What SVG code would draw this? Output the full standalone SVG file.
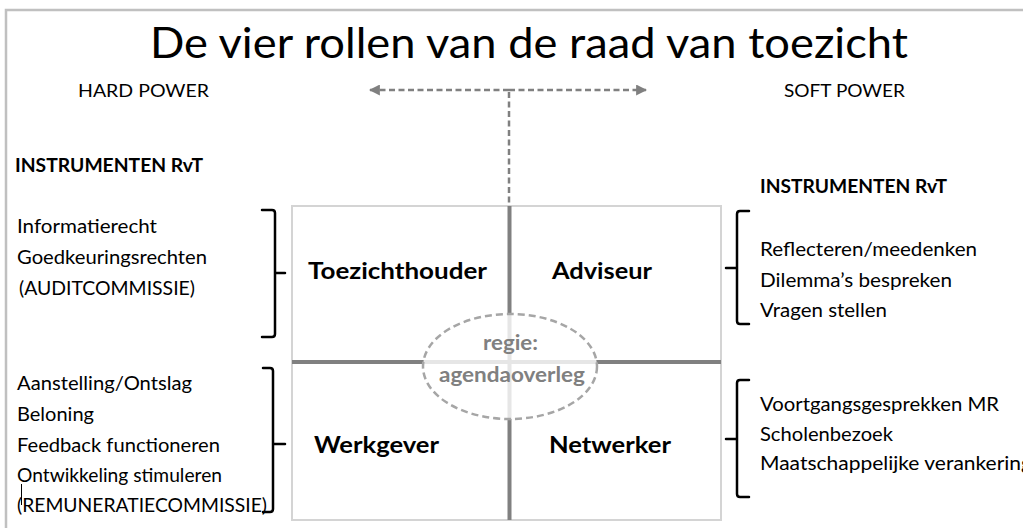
<svg xmlns="http://www.w3.org/2000/svg" width="1023" height="528" viewBox="0 0 1023 528">
<defs>
<style>
.t{font-family:Lato,"Open Sans","Liberation Sans",sans-serif;fill:#000}
.body{font-size:18.5px}
.bold{font-weight:bold}
.role{font-size:23px;font-weight:bold}
.center{font-size:20.5px;font-weight:bold;fill:#808080}
.br{fill:none;stroke:#000;stroke-width:2.5;stroke-linejoin:round;stroke-linecap:round}
.dash{fill:none;stroke:#808080;stroke-width:2.5;stroke-dasharray:6 3.5}
</style>
<marker id="ah" viewBox="0 0 10 10" refX="9" refY="5" markerWidth="11" markerHeight="11" markerUnits="userSpaceOnUse" orient="auto-start-reverse">
<path d="M0,0 L10,5 L0,10 Z" fill="#808080"/>
</marker>
</defs>
<rect width="1023" height="528" fill="#fff"/>
<path d="M6,528 V10 H1023" fill="none" stroke="#c0c0c0" stroke-width="2.5"/>

<text class="t" x="150" y="58" font-size="43" textLength="758" lengthAdjust="spacingAndGlyphs">De vier rollen van de raad van toezicht</text>
<text class="t" x="78" y="97" font-size="16.5" textLength="131" lengthAdjust="spacingAndGlyphs">HARD POWER</text>
<text class="t" x="784" y="97" font-size="16.5" textLength="121" lengthAdjust="spacingAndGlyphs">SOFT POWER</text>

<g id="connectors">
<path class="dash" d="M509,90 H370" marker-end="url(#ah)"/>
<path class="dash" d="M509,90 H646" marker-end="url(#ah)"/>
<path class="dash" d="M509,92 V205"/>
</g>

<g id="matrix">
<rect x="292" y="206" width="429" height="314" fill="#fff" stroke="#d4d4d4" stroke-width="2"/>
<line x1="509.5" y1="206" x2="509.5" y2="520" stroke="#808080" stroke-width="4"/>
<line x1="292" y1="362" x2="721" y2="362" stroke="#808080" stroke-width="4"/>
</g>

<g id="toezichthouder"><text class="t role" x="308" y="279" textLength="179" lengthAdjust="spacingAndGlyphs">Toezichthouder</text></g>
<g id="adviseur"><text class="t role" x="552" y="279" textLength="100" lengthAdjust="spacingAndGlyphs">Adviseur</text></g>
<g id="werkgever"><text class="t role" x="314" y="453" textLength="125" lengthAdjust="spacingAndGlyphs">Werkgever</text></g>
<g id="netwerker"><text class="t role" x="549" y="453" textLength="122" lengthAdjust="spacingAndGlyphs">Netwerker</text></g>

<g id="regie">
<ellipse cx="510" cy="366.5" rx="87" ry="52.5" fill="#fff" fill-opacity="0.8" stroke="#a6a6a6" stroke-width="2.5" stroke-dasharray="7 4"/>
<text class="t center" x="483" y="350" textLength="55" lengthAdjust="spacingAndGlyphs">regie:</text>
<text class="t center" x="439" y="382" textLength="146" lengthAdjust="spacingAndGlyphs">agendaoverleg</text>
</g>

<g id="hard-instruments">
<text class="t body bold" x="15" y="172" textLength="188" lengthAdjust="spacingAndGlyphs">INSTRUMENTEN RvT</text>
<text class="t body" x="17" y="233" textLength="140" lengthAdjust="spacingAndGlyphs">Informatierecht</text>
<text class="t body" x="17" y="264" textLength="190" lengthAdjust="spacingAndGlyphs">Goedkeuringsrechten</text>
<text class="t body" x="19" y="295" textLength="176" lengthAdjust="spacingAndGlyphs">(AUDITCOMMISSIE)</text>
<path class="br" d="M262,210 H272 Q275,210 275,213 V334 Q275,337 272,337 H262 M275,273 H285"/>
<text class="t body" x="17" y="390" textLength="175" lengthAdjust="spacingAndGlyphs">Aanstelling/Ontslag</text>
<text class="t body" x="17" y="421" textLength="77" lengthAdjust="spacingAndGlyphs">Beloning</text>
<text class="t body" x="17" y="452" textLength="203" lengthAdjust="spacingAndGlyphs">Feedback functioneren</text>
<text class="t body" x="17" y="482" textLength="205" lengthAdjust="spacingAndGlyphs">Ontwikkeling stimuleren</text>
<text class="t body" x="17" y="512" textLength="250" lengthAdjust="spacingAndGlyphs">(REMUNERATIECOMMISSIE)</text>
<line x1="21.5" y1="484" x2="21.5" y2="505" stroke="#000" stroke-width="1"/>
<path class="br" d="M263,368 H270 Q273,368 273,371 V509 Q273,512 270,512 H263 M273,444 H285"/>
</g>

<g id="soft-instruments">
<text class="t body bold" x="760" y="193" textLength="187" lengthAdjust="spacingAndGlyphs">INSTRUMENTEN RvT</text>
<path class="br" d="M749,211 H740 Q737,211 737,214 V321 Q737,324 740,324 H749 M737,268 H726"/>
<text class="t body" x="760" y="256" textLength="217" lengthAdjust="spacingAndGlyphs">Reflecteren/meedenken</text>
<text class="t body" x="760" y="287" textLength="192" lengthAdjust="spacingAndGlyphs">Dilemma’s bespreken</text>
<text class="t body" x="760" y="317" textLength="127" lengthAdjust="spacingAndGlyphs">Vragen stellen</text>
<path class="br" d="M749,380 H740 Q737,380 737,383 V494 Q737,497 740,497 H749 M737,439 H726"/>
<text class="t body" x="760" y="411" textLength="239" lengthAdjust="spacingAndGlyphs">Voortgangsgesprekken MR</text>
<text class="t body" x="760" y="441" textLength="133" lengthAdjust="spacingAndGlyphs">Scholenbezoek</text>
<text class="t body" x="760" y="470" textLength="272" lengthAdjust="spacingAndGlyphs">Maatschappelijke verankering</text>
</g>
</svg>
